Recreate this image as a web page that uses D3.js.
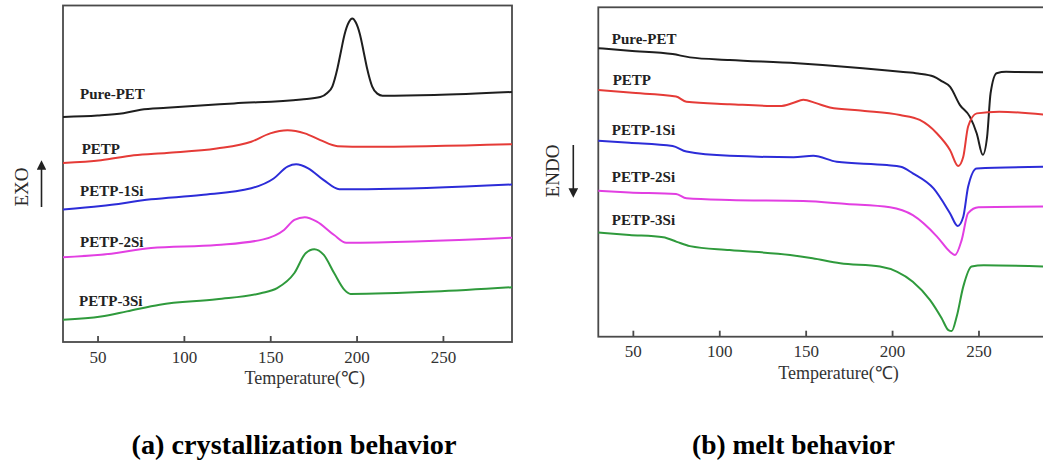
<!DOCTYPE html>
<html>
<head>
<meta charset="utf-8">
<script src="https://cdn.jsdelivr.net/npm/d3@7"></script>
<style>
  html, body { margin: 0; padding: 0; background: #fff; }
  svg { display: block; }
  text { font-family: "Liberation Serif", serif; }
</style>
</head>
<body>
<svg id="chart" width="1043" height="465"></svg>
<script>
// ---------------- DATA ----------------
const seriesNames = ["Pure-PET", "PETP", "PETP-1Si", "PETP-2Si", "PETP-3Si"];
const seriesColors = ["#1e1e1e", "#e53b37", "#2c2cd8", "#e23fe2", "#2f9a3c"];
const xTicks = [50, 100, 150, 200, 250];
const xDomain = [30, 290];
const xLabel = "Temperature(\u2103)";
const panelTitles = ["(a) crystallization behavior", "(b) melt behavior"];
const yLabels = ["EXO", "ENDO"];

// (a) crystallization (cooling) curves: [temperature °C, heat flow a.u., offset]
const crystPurePET = [[30,66.9],[50,67.3],[65,68.0],[75,69.0],[90,69.6],[129,70.9],[168,72.1],[179,72.8],[183,74.0],[186,76.0],[189,81.5],[191,86.5],[193,91.3],[195.5,95.0],[197.5,96.1],[199.5,95.0],[202,91.3],[204,86.5],[206,81.5],[209,76.0],[212,73.8],[215,73.2],[245,73.4],[290,74.3]];
const crystPETP = [[30,53.2],[52,54.0],[71,55.5],[90,56.2],[119,57.5],[139,59.5],[150,62.0],[160,62.9],[170,62.0],[179,60.0],[189,58.2],[206,58.0],[290,58.8]];
const crystPETP1Si = [[30,39.4],[52,40.4],[81,42.4],[110,43.7],[139,45.7],[152,48.6],[160,52.1],[165,52.8],[172,51.6],[181,48.1],[190,45.4],[206,45.4],[290,46.8]];
const crystPETP2Si = [[30,25.2],[52,25.9],[81,27.9],[119,28.8],[146,30.5],[158,33.3],[164,36.3],[170,37.1],[177,35.8],[187,31.8],[194,29.5],[290,31.0]];
const crystPETP3Si = [[30,6.6],[52,7.6],[67,9.1],[86,11.1],[119,12.7],[144.5,14.5],[154,16.0],[164,20.5],[170.5,26.4],[175.5,27.6],[181,25.9],[187,20.5],[193,15.5],[196.5,14.3],[245,15.0],[290,16.3]];

// (b) melting (heating) curves
const meltPurePET = [[30,87.6],[48,86.8],[73,85.8],[83,84.8],[106,84.0],[145,83.0],[183,81.5],[205,80.4],[215,79.9],[224,79.0],[229,77.5],[233.5,75.9],[239.3,70.3],[245,66.8],[249,61.7],[252.5,55.2],[255,60.7],[257,73.9],[260.5,80.0],[266,80.4],[290,80.3]];
const meltPETP = [[30,74.9],[48,74.1],[75,72.9],[81,71.3],[106,70.6],[135,70.0],[143,71.0],[148.6,71.9],[156,70.9],[164,69.6],[183,68.6],[204.6,67.3],[216,65.8],[226,61.7],[233.5,56.7],[238.3,51.8],[241.2,54.6],[244,63.8],[249,67.8],[262,68.3],[290,67.3]];
const meltPETP1Si = [[30,59.5],[48,58.9],[73,57.9],[81,56.2],[106,54.9],[143,54.5],[154.4,54.9],[168,53.1],[197,52.1],[205,51.6],[212,49.6],[224,45.0],[233.5,37.5],[238,33.6],[241.2,36.4],[244,45.5],[249,51.1],[290,51.6]];
const meltPETP2Si = [[30,44.3],[48,43.8],[75,43.3],[81,42.0],[106,41.5],[148.6,41.2],[173.7,40.3],[198.8,39.3],[212,36.9],[226,30.4],[233.5,25.8],[236.4,24.8],[240.3,29.4],[244,37.5],[250,39.3],[290,39.5]];
const meltPETP3Si = [[30,31.6],[48,30.9],[67.6,30.2],[75.4,28.8],[83,27.5],[106,26.3],[141,24.8],[154,23.8],[170,22.3],[193,21.3],[203,19.7],[212,16.7],[222,11.1],[228.7,5.6],[232.6,2.0],[234.5,1.7],[237.4,6.1],[241.2,15.2],[246,21.3],[253,21.7],[290,21.3]];

// label anchors in data units [temperature, heat flow]
const crystLabelAnchors = [[39.9,72.1],[40.8,56.0],[39.9,43.5],[39.9,28.3],[39.3,10.8]];
const meltLabelAnchors = [[37.8,88.8],[38.3,76.3],[37.8,61.2],[37.8,47.1],[37.8,33.9]];

const crystSeries = [crystPurePET, crystPETP, crystPETP1Si, crystPETP2Si, crystPETP3Si];
const meltSeries = [meltPurePET, meltPETP, meltPETP1Si, meltPETP2Si, meltPETP3Si];

// ---------------- LAYOUT ----------------
const panels = [
  { series: crystSeries, anchors: crystLabelAnchors, x0: 63, x1: 512, top: 5.5, bottom: 342,
    tickBase: 363, xlabBase: 384, xlabT: 170, title: panelTitles[0], titleX: 294, titleW: 325,
    yLab: yLabels[0], yLabX: 21, yLabY: 187, arrowX: 41.5, arrowFrom: 207, arrowTo: 165 },
  { series: meltSeries, anchors: meltLabelAnchors, x0: 598.3, x1: 1047.6, top: 7.3, bottom: 336.7,
    tickBase: 357, xlabBase: 379, xlabT: 169, title: panelTitles[1], titleX: 793.5, titleW: 203,
    yLab: yLabels[1], yLabX: 552.5, yLabY: 171, arrowX: 573.3, arrowFrom: 145, arrowTo: 193 }
];

const svg = d3.select("#chart");
const defs = svg.append("defs");
defs.append("marker").attr("id", "ah").attr("viewBox", "0 0 10 10")
  .attr("refX", 5).attr("refY", 5).attr("markerWidth", 6).attr("markerHeight", 6)
  .attr("orient", "auto-start-reverse")
  .append("path").attr("d", "M0,0 L10,5 L0,10 z").attr("fill", "#222");

const serif = "Liberation Serif, serif";

panels.forEach((p, pi) => {
  const x = d3.scaleLinear().domain(xDomain).range([p.x0, p.x1]);
  const y = d3.scaleLinear().domain([0, 100]).range([p.bottom, p.top]);
  const g = svg.append("g");

  // frame
  g.append("rect").attr("x", p.x0).attr("y", p.top)
    .attr("width", p.x1 - p.x0).attr("height", p.bottom - p.top)
    .attr("fill", "none").attr("stroke", "#4a4a4a").attr("stroke-width", 1.8);

  // bottom axis with inward ticks
  const axis = d3.axisBottom(x).tickValues(xTicks).tickSize(-6).tickPadding(0).tickFormat(d3.format("d"));
  const ag = g.append("g").attr("transform", `translate(0,${p.bottom})`).call(axis)
    .attr("font-family", serif).attr("font-size", 17);
  ag.select(".domain").remove();
  ag.selectAll(".tick line").attr("stroke", "#4a4a4a").attr("stroke-width", 1.8);
  ag.selectAll(".tick text")
    .attr("y", p.tickBase - p.bottom).attr("dy", 0)
    .style("font-family", serif).attr("font-size", 17).attr("fill", "#333");

  g.append("text").attr("x", x(p.xlabT)).attr("y", p.xlabBase)
    .attr("text-anchor", "middle").style("font-family", serif).attr("font-size", 18)
    .attr("fill", "#333").text(xLabel);

  // curves
  const line = d3.line().x(d => x(d[0])).y(d => y(d[1])).curve(d3.curveMonotoneX);
  p.series.forEach((s, i) => {
    g.append("path").datum(s).attr("d", line)
      .attr("fill", "none").attr("stroke", seriesColors[i]).attr("stroke-width", 2)
      .attr("stroke-linejoin", "round");
  });

  // series labels
  p.anchors.forEach((a, i) => {
    g.append("text").attr("x", x(a[0])).attr("y", y(a[1]))
      .style("font-family", serif).attr("font-weight", "bold").attr("font-size", 15)
      .attr("fill", "#222").text(seriesNames[i]);
  });

  // y label and arrow
  g.append("text").attr("transform", `translate(${p.yLabX},${p.yLabY}) rotate(-90)`)
    .attr("text-anchor", "middle").attr("dominant-baseline", "central")
    .style("font-family", serif).attr("font-size", 19).attr("fill", "#2a2a2a").text(p.yLab);
  g.append("line").attr("x1", p.arrowX).attr("x2", p.arrowX)
    .attr("y1", p.arrowFrom).attr("y2", p.arrowTo)
    .attr("stroke", "#222").attr("stroke-width", 1.6).attr("marker-end", "url(#ah)");

  // panel title
  svg.append("text").attr("x", p.titleX).attr("y", 454)
    .attr("text-anchor", "middle").style("font-family", serif).attr("font-weight", "bold")
    .attr("font-size", 27).attr("fill", "#000")
    .attr("textLength", p.titleW).attr("lengthAdjust", "spacingAndGlyphs")
    .text(p.title);
});
</script>
</body>
</html>
